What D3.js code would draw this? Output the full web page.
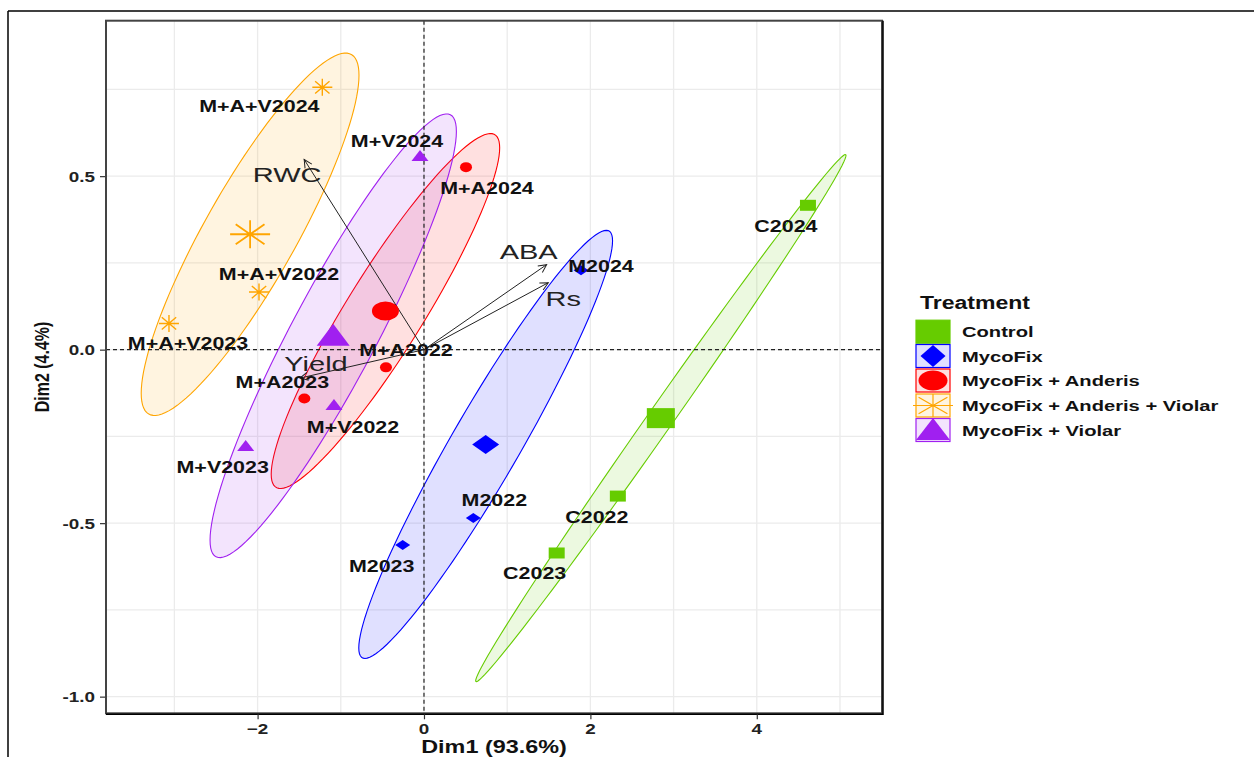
<!DOCTYPE html>
<html><head><meta charset="utf-8">
<script src="https://cdn.jsdelivr.net/npm/d3@7"></script>
<style>body{margin:0;background:#fff} svg{display:block}</style>
</head><body>
<svg id="c" width="1254" height="757"></svg>
<script>
// ---------------- DATA ----------------
const treatments = ["Control","MycoFix","MycoFix + Anderis","MycoFix + Anderis + Violar","MycoFix + Violar"];
const samples = ["C2022","C2023","C2024","M2022","M2023","M2024","M+A2022","M+A2023","M+A2024",
                 "M+A+V2022","M+A+V2023","M+A+V2024","M+V2022","M+V2023","M+V2024"];
const sampleGroup = ["Control","Control","Control","MycoFix","MycoFix","MycoFix",
                     "MycoFix + Anderis","MycoFix + Anderis","MycoFix + Anderis",
                     "MycoFix + Anderis + Violar","MycoFix + Anderis + Violar","MycoFix + Anderis + Violar",
                     "MycoFix + Violar","MycoFix + Violar","MycoFix + Violar"];
const dim1 = [2.33, 1.595, 4.615,  0.593, -0.256, 1.887,  -0.457, -1.438, 0.505,
              -1.983, -3.065, -1.222,  -1.082, -2.143, -0.048];
const dim2 = [-0.422, -0.586, 0.416,  -0.485, -0.563, 0.229,  -0.051, -0.141, 0.526,
              0.166, 0.0755, 0.756,  -0.160, -0.278, 0.558];
const variables = ["RWC","ABA","Rs","Yield"];
const varDim1 = [-1.44, 1.474, 1.494, -1.49];
const varDim2 = [0.548, 0.245, 0.193, -0.082];
const xTicks = [-2, 0, 2, 4];
const yTicks = [-1.0, -0.5, 0.0, 0.5];
const xMinor = [-3, -1, 1, 3, 5];
const yMinor = [-0.75, -0.25, 0.25, 0.75];
const xTitle = "Dim1 (93.6%)";
const yTitle = "Dim2 (4.4%)";
const legendTitle = "Treatment";

// ---------------- STYLE / LAYOUT ----------------
const colors = {"Control":"#66CC00","MycoFix":"#0000FF","MycoFix + Anderis":"#FF0000",
                "MycoFix + Anderis + Violar":"#FFA500","MycoFix + Violar":"#A020F0"};
const shapes = {"Control":"square","MycoFix":"diamond","MycoFix + Anderis":"circle",
                "MycoFix + Anderis + Violar":"asterisk","MycoFix + Violar":"triangle"};
const smallSize = {square:[16,11],diamond:[15,10],circle:[12,10],asterisk:[20,17],triangle:[17,11]};
const bigSize   = {square:[28,20],diamond:[27,19],circle:[27,19],asterisk:[40,28],triangle:[33,22]};
const legendSize= {square:[34,23],diamond:[25,22],circle:[29,20],asterisk:[40,23],triangle:[34,22]};
// label offsets in pixels: [dx of centre, dy of baseline]
const labelOffset = {"C2022":[-21,27],"C2023":[-22,26],"C2024":[-22,27],"M2022":[21,-12],"M2023":[-21,27],
  "M2024":[20,2],"M+A2022":[20,-11],"M+A2023":[-22,-11],"M+A2024":[21,27],"M+A+V2022":[20,-12],
  "M+A+V2023":[19,26],"M+A+V2024":[-63,25],"M+V2022":[19,28],"M+V2023":[-23,27],"M+V2024":[-23,-9]};
const varLabelOffset = {"RWC":[-17,23],"ABA":[-18,-6],"Rs":[15,23],"Yield":[16,-7]};
const FONT = "'Liberation Sans', Arial, sans-serif";
const SX = 1.3;

const panel = {l:106, r:882, t:20.7, b:713.3};
const svg = d3.select("#c");
const x = d3.scaleLinear().domain([-3.822, 5.505]).range([panel.l, panel.r]);
const y = d3.scaleLinear().domain([-1.048, 0.948]).range([panel.b, panel.t]);

function txt(g, px, py, s, o) {
  o = o || {};
  return g.append("text")
    .attr("transform", `translate(${px},${py}) scale(${o.sx||SX},1)` + (o.rot ? ` rotate(${o.rot})` : ""))
    .attr("text-anchor", o.anchor || "middle")
    .attr("font-family", FONT)
    .attr("font-size", o.size || 16.5)
    .attr("font-weight", o.weight || "bold")
    .attr("fill", o.fill || "#111")
    .text(s);
}

function symbol(g, shape, cx, cy, w, h, color, sw) {
  if (shape === "square") {
    g.append("rect").attr("x", cx - w/2).attr("y", cy - h/2).attr("width", w).attr("height", h).attr("fill", color);
  } else if (shape === "diamond") {
    g.append("path").attr("d", `M${cx-w/2},${cy} L${cx},${cy-h/2} L${cx+w/2},${cy} L${cx},${cy+h/2} Z`).attr("fill", color);
  } else if (shape === "circle") {
    g.append("ellipse").attr("cx", cx).attr("cy", cy).attr("rx", w/2).attr("ry", h/2).attr("fill", color);
  } else if (shape === "triangle") {
    g.append("path").attr("d", `M${cx},${cy-h*0.55} L${cx+w/2},${cy+h*0.45} L${cx-w/2},${cy+h*0.45} Z`).attr("fill", color);
  } else if (shape === "asterisk") {
    const p = `M${cx-w/2},${cy} L${cx+w/2},${cy} M${cx},${cy-h/2} L${cx},${cy+h/2} ` +
              `M${cx-w*0.36},${cy-h*0.36} L${cx+w*0.36},${cy+h*0.36} M${cx-w*0.36},${cy+h*0.36} L${cx+w*0.36},${cy-h*0.36}`;
    g.append("path").attr("d", p).attr("stroke", color).attr("stroke-width", sw || 1.5).attr("fill", "none");
  }
}

// outer frame
svg.append("line").attr("x1", 8).attr("y1", 11).attr("x2", 1254).attr("y2", 11).attr("stroke", "#000").attr("stroke-width", 1.5);
svg.append("line").attr("x1", 8).attr("y1", 11).attr("x2", 8).attr("y2", 757).attr("stroke", "#000").attr("stroke-width", 1.5);

// grid
const grid = svg.append("g").attr("stroke", "#ebebeb").attr("stroke-width", 1.3);
xTicks.concat(xMinor).forEach(v => {
  if (x(v) > panel.l && x(v) < panel.r)
    grid.append("line").attr("x1", x(v)).attr("x2", x(v)).attr("y1", panel.t).attr("y2", panel.b);
});
yTicks.concat(yMinor).forEach(v => {
  if (y(v) > panel.t && y(v) < panel.b)
    grid.append("line").attr("y1", y(v)).attr("y2", y(v)).attr("x1", panel.l).attr("x2", panel.r);
});

svg.append("clipPath").attr("id", "clip").append("rect")
  .attr("x", panel.l).attr("y", panel.t).attr("width", panel.r - panel.l).attr("height", panel.b - panel.t);
const plot = svg.append("g").attr("clip-path", "url(#clip)");

// confidence ellipses (from group means & covariances, 95% level for mean)
const rows = samples.map((s, i) => ({s, g: sampleGroup[i], x: dim1[i], y: dim2[i]}));
const chi2 = 5.991465;
const centroids = {};
treatments.forEach(t => {
  const pts = rows.filter(r => r.g === t);
  const n = pts.length;
  const mx = d3.mean(pts, d => d.x), my = d3.mean(pts, d => d.y);
  centroids[t] = [mx, my];
  let sxx = 0, syy = 0, sxy = 0;
  pts.forEach(p => { sxx += (p.x-mx)**2; syy += (p.y-my)**2; sxy += (p.x-mx)*(p.y-my); });
  sxx /= (n-1); syy /= (n-1); sxy /= (n-1);
  const a = Math.sqrt(sxx), b = sxy / a, c = Math.sqrt(Math.max(0, syy - b*b));
  const r = Math.sqrt(chi2 / n);
  const poly = d3.range(0, 361, 3).map(deg => {
    const th = deg * Math.PI / 180;
    return [x(mx + r * a * Math.cos(th)), y(my + r * (b * Math.cos(th) + c * Math.sin(th)))];
  });
  plot.append("path").attr("d", d3.line()(poly) + "Z")
    .attr("fill", colors[t]).attr("fill-opacity", 0.12)
    .attr("stroke", colors[t]).attr("stroke-width", 1.1);
});

// origin dashed lines
plot.append("line").attr("x1", x(0)).attr("x2", x(0)).attr("y1", panel.t).attr("y2", panel.b)
  .attr("stroke", "#222").attr("stroke-width", 1.2).attr("stroke-dasharray", "4,3");
plot.append("line").attr("y1", y(0)).attr("y2", y(0)).attr("x1", panel.l).attr("x2", panel.r)
  .attr("stroke", "#222").attr("stroke-width", 1.2).attr("stroke-dasharray", "4,3");

// arrows
const defs = svg.append("defs");
defs.append("marker").attr("id", "arr").attr("viewBox", "-10 -6 12 12").attr("refX", 0).attr("refY", 0)
  .attr("markerWidth", 12).attr("markerHeight", 12).attr("markerUnits", "userSpaceOnUse").attr("orient", "auto")
  .append("path").attr("d", "M-8,-4 L0,0 L-8,4").attr("fill", "none").attr("stroke", "#222").attr("stroke-width", 1);
variables.forEach((v, i) => {
  plot.append("line").attr("x1", x(0)).attr("y1", y(0)).attr("x2", x(varDim1[i])).attr("y2", y(varDim2[i]))
    .attr("stroke", "#222").attr("stroke-width", 1).attr("marker-end", "url(#arr)");
});

// points
rows.forEach(r => {
  const sh = shapes[r.g], sz = smallSize[sh];
  symbol(plot, sh, x(r.x), y(r.y), sz[0], sz[1], colors[r.g], 1.4);
});
// centroids
treatments.forEach(t => {
  const sh = shapes[t], sz = bigSize[sh];
  symbol(plot, sh, x(centroids[t][0]), y(centroids[t][1]), sz[0], sz[1], colors[t], 1.8);
});

// point labels
rows.forEach(r => {
  const o = labelOffset[r.s];
  txt(svg, x(r.x) + o[0], y(r.y) + o[1], r.s, {size: 16.5});
});
// variable labels
variables.forEach((v, i) => {
  const o = varLabelOffset[v];
  txt(svg, x(varDim1[i]) + o[0], y(varDim2[i]) + o[1], v, {size: 21, weight: "normal", sx: 1.38, fill: "#222"});
});

// panel border
svg.append("rect").attr("x", panel.l).attr("y", panel.t).attr("width", panel.r - panel.l).attr("height", panel.b - panel.t)
  .attr("fill", "none").attr("stroke", "#444").attr("stroke-width", 2);
svg.append("path").attr("d", `M${panel.r+1},${panel.t} L${panel.r+1},${panel.b+1} L${panel.l},${panel.b+1}`)
  .attr("fill", "none").attr("stroke", "#000").attr("stroke-width", 1.5);

// axes
const xAxis = svg.append("g").attr("transform", `translate(0,${panel.b + 1})`)
  .call(d3.axisBottom(x).tickValues(xTicks).tickSize(5).tickFormat(d3.format("d")));
const yAxis = svg.append("g").attr("transform", `translate(${panel.l - 1},0)`)
  .call(d3.axisLeft(y).tickValues(yTicks).tickSize(5).tickFormat(d3.format(".1f")));
[xAxis, yAxis].forEach(a => {
  a.select(".domain").remove();
  a.selectAll(".tick line").attr("stroke", "#333").attr("stroke-width", 1.2);
  a.selectAll(".tick text").remove();
});
xTicks.forEach(v => txt(svg, x(v), 734, d3.format("d")(v), {size: 14.5, fill: "#222"}));
yTicks.forEach(v => txt(svg, 95, y(v) + 5.5, d3.format(".1f")(v).replace("−", "-"), {size: 14.5, fill: "#222", anchor: "end"}));

// axis titles
txt(svg, (panel.l + panel.r) / 2, 753, xTitle, {size: 18, fill: "#111"});
svg.append("text").attr("transform", `translate(49,${(panel.t + panel.b) / 2}) rotate(-90) scale(1,${SX})`)
  .attr("text-anchor", "middle").attr("font-family", FONT).attr("font-size", 16).attr("font-weight", "bold")
  .attr("fill", "#111").text(yTitle);

// legend
const lg = svg.append("g");
txt(lg, 920, 309, legendTitle, {size: 18, anchor: "start", sx: 1.28});
const rowY = [331.7, 356, 380.5, 405.5, 430];
treatments.forEach((t, i) => {
  const cy = rowY[i], cx = 933;
  lg.append("rect").attr("x", cx - 17).attr("y", cy - 11.5).attr("width", 34).attr("height", 23)
    .attr("fill", colors[t]).attr("fill-opacity", 0.12).attr("stroke", colors[t]).attr("stroke-width", 1.2);
  const sh = shapes[t], sz = legendSize[sh];
  symbol(lg, sh, cx, cy, sz[0], sz[1], colors[t], 1.2);
  txt(lg, 962, cy + 5.5, t, {size: 15.5, anchor: "start"});
});
</script>
</body></html>
